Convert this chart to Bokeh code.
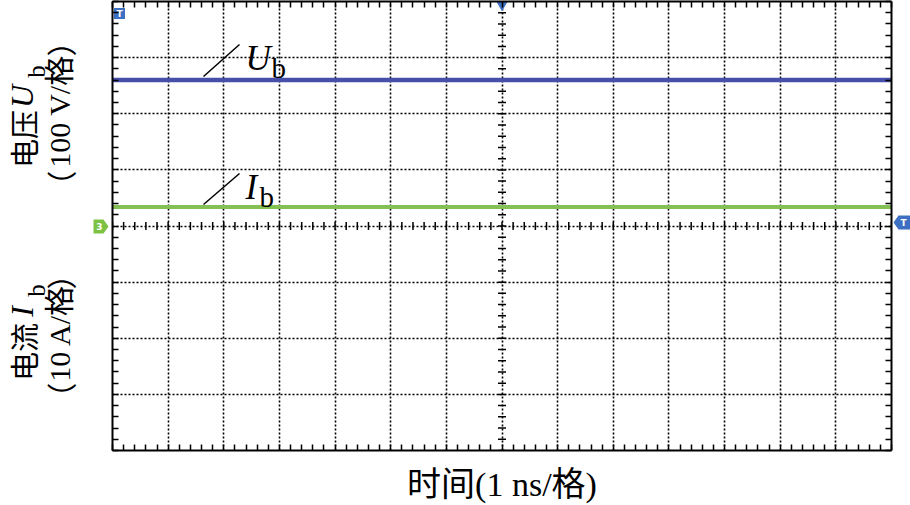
import numpy as np
from bokeh.plotting import figure
from bokeh.layouts import row
from bokeh.models import LinearAxis, FixedTicker, Range1d
from bokeh.core.properties import value
from bokeh.embed import file_html
from bokeh.resources import INLINE

# ---- data (scope screen, in divisions; time axis 1 ns/div) ----
time_ns = [-7.0, -6.0, -5.0, -4.0, -3.0, -2.0, -1.0, 0.0, 1.0, 2.0, 3.0, 4.0, 5.0, 6.0, 7.0]
ub_div = [2.60, 2.60, 2.60, 2.60, 2.60, 2.60, 2.60, 2.60, 2.60, 2.60, 2.60, 2.60, 2.60, 2.60, 2.60]
ib_div = [0.34, 0.34, 0.34, 0.34, 0.34, 0.34, 0.34, 0.34, 0.34, 0.34, 0.34, 0.34, 0.34, 0.34, 0.34]

x_label = "时间(1 ns/格)"
ub_name = ["电压", "U", "b", "（", "100 V/格", "）"]
ib_name = ["电流", "I", "b", "（", "10 A/格", "）"]
trace_names = [("U", "b"), ("I", "b")]

X_DIV = 7
Y_DIV = 4
H = 505
LEFT_W, MAIN_W, RIGHT_W = 110, 783, 17
FRAME_W, FRAME_H = 779, 449
TOP_B, BOT_B = 1, H - 1 - 449

UB_COLOR = "#4650AA"
IB_COLOR = "#84C155"
ICON_BLUE = "#3D6FC2"
ICON_GREEN = "#7DC243"

SERIF = "Liberation Serif, Noto Sans CJK SC"
CJK = "Noto Sans CJK SC"
TIMES = "Liberation Serif"

PX = FRAME_W / (2 * X_DIV)
PY = FRAME_H / (2 * Y_DIV)


def dx(ref_x):
    return (ref_x - 112) / PX - X_DIV


def dy(ref_y):
    return Y_DIV - (ref_y - 1) / PY


yr = Range1d(-Y_DIV, Y_DIV)

# ---------------- main scope screen ----------------
p = figure(width=MAIN_W, height=H, x_range=Range1d(-X_DIV, X_DIV), y_range=yr,
           output_backend="svg", toolbar_location=None, title=None,
           min_border_left=2, min_border_right=2,
           min_border_top=TOP_B, min_border_bottom=BOT_B)
p.outline_line_color = None
p.background_fill_color = "white"
p.border_fill_color = "white"

xticks = [round(v, 2) for v in np.arange(-X_DIV, X_DIV + 0.001, 0.2)]
yticks = [round(v, 2) for v in np.arange(-Y_DIV, Y_DIV + 0.001, 0.2)]


def style_axis(ax, ticks):
    ax.ticker = FixedTicker(ticks=ticks)
    ax.major_label_text_font_size = "0px"
    ax.major_label_text_color = None
    ax.major_label_standoff = 0
    ax.major_tick_in = 6
    ax.major_tick_out = 0
    ax.major_tick_line_width = 1.5
    ax.major_tick_line_color = "black"
    ax.minor_tick_line_color = None
    ax.axis_line_width = 2
    ax.axis_line_color = "black"


style_axis(p.xaxis[0], xticks)
style_axis(p.yaxis[0], yticks)
p.xaxis[0].axis_label = x_label
p.xaxis[0].axis_label_text_font = SERIF
p.xaxis[0].axis_label_text_font_style = "normal"
p.xaxis[0].axis_label_text_font_size = "34px"
p.xaxis[0].axis_label_text_color = "black"
p.xaxis[0].axis_label_standoff = 15

top_ax = LinearAxis()
style_axis(top_ax, xticks)
p.add_layout(top_ax, "above")
right_ax = LinearAxis()
style_axis(right_ax, yticks)
p.add_layout(right_ax, "right")

# dotted graticule
p.xgrid.ticker = FixedTicker(ticks=list(range(-X_DIV + 1, X_DIV)))
p.ygrid.ticker = FixedTicker(ticks=list(range(-Y_DIV + 1, Y_DIV)))
for g in (p.xgrid[0], p.ygrid[0]):
    g.grid_line_color = "black"
    g.grid_line_dash = "2 2"
    g.grid_line_width = 1.6

# centre cross-hair tick marks
hx = 4 / PX
hy = 4 / PY
p.segment(x0=xticks, y0=[-hy] * len(xticks), x1=xticks, y1=[hy] * len(xticks),
          line_color="black", line_width=1.5)
p.segment(x0=[-hx] * len(yticks), y0=yticks, x1=[hx] * len(yticks), y1=yticks,
          line_color="black", line_width=1.5)

# traces
p.line(time_ns, ub_div, line_color=UB_COLOR, line_width=4.5)
p.line(time_ns, ib_div, line_color=IB_COLOR, line_width=4)

# leader lines + trace names
p.line([dx(203), dx(239)], [dy(76), dy(44)], line_color="black", line_width=1.5)
p.line([dx(203), dx(239)], [dy(204), dy(173)], line_color="black", line_width=1.5)
p.text(x=[dx(245)], y=[dy(58)], text=[trace_names[0][0]], text_font=value(TIMES),
       text_font_style="italic", text_font_size="35px", text_baseline="alphabetic", text_color="black")
p.text(x=[dx(271)], y=[dy(67)], text=[trace_names[0][1]], text_font=value(TIMES),
       text_font_size="29px", text_baseline="alphabetic", text_color="black")
p.text(x=[dx(245)], y=[dy(187)], text=[trace_names[1][0]], text_font=value(TIMES),
       text_font_style="italic", text_font_size="35px", text_baseline="alphabetic", text_color="black")
p.text(x=[dx(259)], y=[dy(196)], text=[trace_names[1][1]], text_font=value(TIMES),
       text_font_size="29px", text_baseline="alphabetic", text_color="black")

# scope markers inside the screen
p.scatter(x=[0], y=[dy(3)], marker="inverted_triangle", size=12, color=ICON_BLUE)
p.rect(x=[dx(119)], y=[dy(13)], width=11, height=11, width_units="screen", height_units="screen",
       fill_color=ICON_BLUE, line_color=None)
p.text(x=[dx(119)], y=[dy(13)], text=["T"], text_color="white", text_font=value("DejaVu Sans"),
       text_font_style="bold", text_font_size="9px", text_align="center", text_baseline="middle")

# ---------------- left strip: y labels + channel marker ----------------
lf = figure(width=LEFT_W, height=H, x_range=Range1d(0, LEFT_W), y_range=yr,
            output_backend="svg", toolbar_location=None, title=None,
            x_axis_location=None, y_axis_location=None,
            min_border_left=0, min_border_right=0, min_border_top=TOP_B, min_border_bottom=BOT_B)
lf.outline_line_color = None
lf.xgrid.visible = False
lf.ygrid.visible = False
lf.background_fill_color = "white"
lf.border_fill_color = "white"

ANG = np.pi / 2
# (x centre, ref-y centre) for each text piece
label_layout = [
    (ub_name, [(22.5, 138.5), (21.5, 96), (35.5, 71), (59, 185), (59, 111), (59, 41)]),
    (ib_name, [(22.5, 351.5), (21.0, 311), (35.5, 290), (59, 397), (59, 332.5), (59, 274)]),
]
piece_fonts = [(CJK, "29px", "normal"), (TIMES, "32px", "italic"), (TIMES, "25px", "normal"),
               (CJK, "30px", "normal"), (SERIF, "30px", "normal"), (CJK, "30px", "normal")]
for name, pos in label_layout:
    for txt, (px_, py_), (fnt, fsz, fst) in zip(name, pos, piece_fonts):
        lf.text(x=[px_], y=[dy(py_)], text=[txt], angle=ANG, text_font=value(fnt),
                text_font_size=fsz, text_font_style=fst, text_align="center",
                text_baseline="middle", text_color="black")

# channel-3 ground marker (points right, at centre line)
gy0, gy1, gym = dy(219), dy(233), dy(226)
lf.patch(x=[93, 103, 108, 103, 93], y=[gy0, gy0, gym, gy1, gy1], fill_color=ICON_GREEN, line_color=None)
lf.text(x=[99], y=[gym], text=["3"], text_color="white", text_font=value("DejaVu Sans"),
        text_font_style="bold", text_font_size="9px", text_align="center", text_baseline="middle")

# ---------------- right strip: trigger level marker ----------------
rf = figure(width=RIGHT_W, height=H, x_range=Range1d(0, RIGHT_W), y_range=yr,
            output_backend="svg", toolbar_location=None, title=None,
            x_axis_location=None, y_axis_location=None,
            min_border_left=0, min_border_right=0, min_border_top=TOP_B, min_border_bottom=BOT_B)
rf.outline_line_color = None
rf.xgrid.visible = False
rf.ygrid.visible = False
rf.background_fill_color = "white"
rf.border_fill_color = "white"
ty0, ty1, tym = dy(215), dy(229), dy(222)
rf.patch(x=[0, 5, 17, 17, 5], y=[tym, ty0, ty0, ty1, ty1], fill_color=ICON_BLUE, line_color=None)
rf.text(x=[10], y=[tym], text=["T"], text_color="white", text_font=value("DejaVu Sans"),
        text_font_style="bold", text_font_size="9px", text_align="center", text_baseline="middle")

layout = row(lf, p, rf, spacing=0)
open("out.html", "w").write(file_html(layout, INLINE))
